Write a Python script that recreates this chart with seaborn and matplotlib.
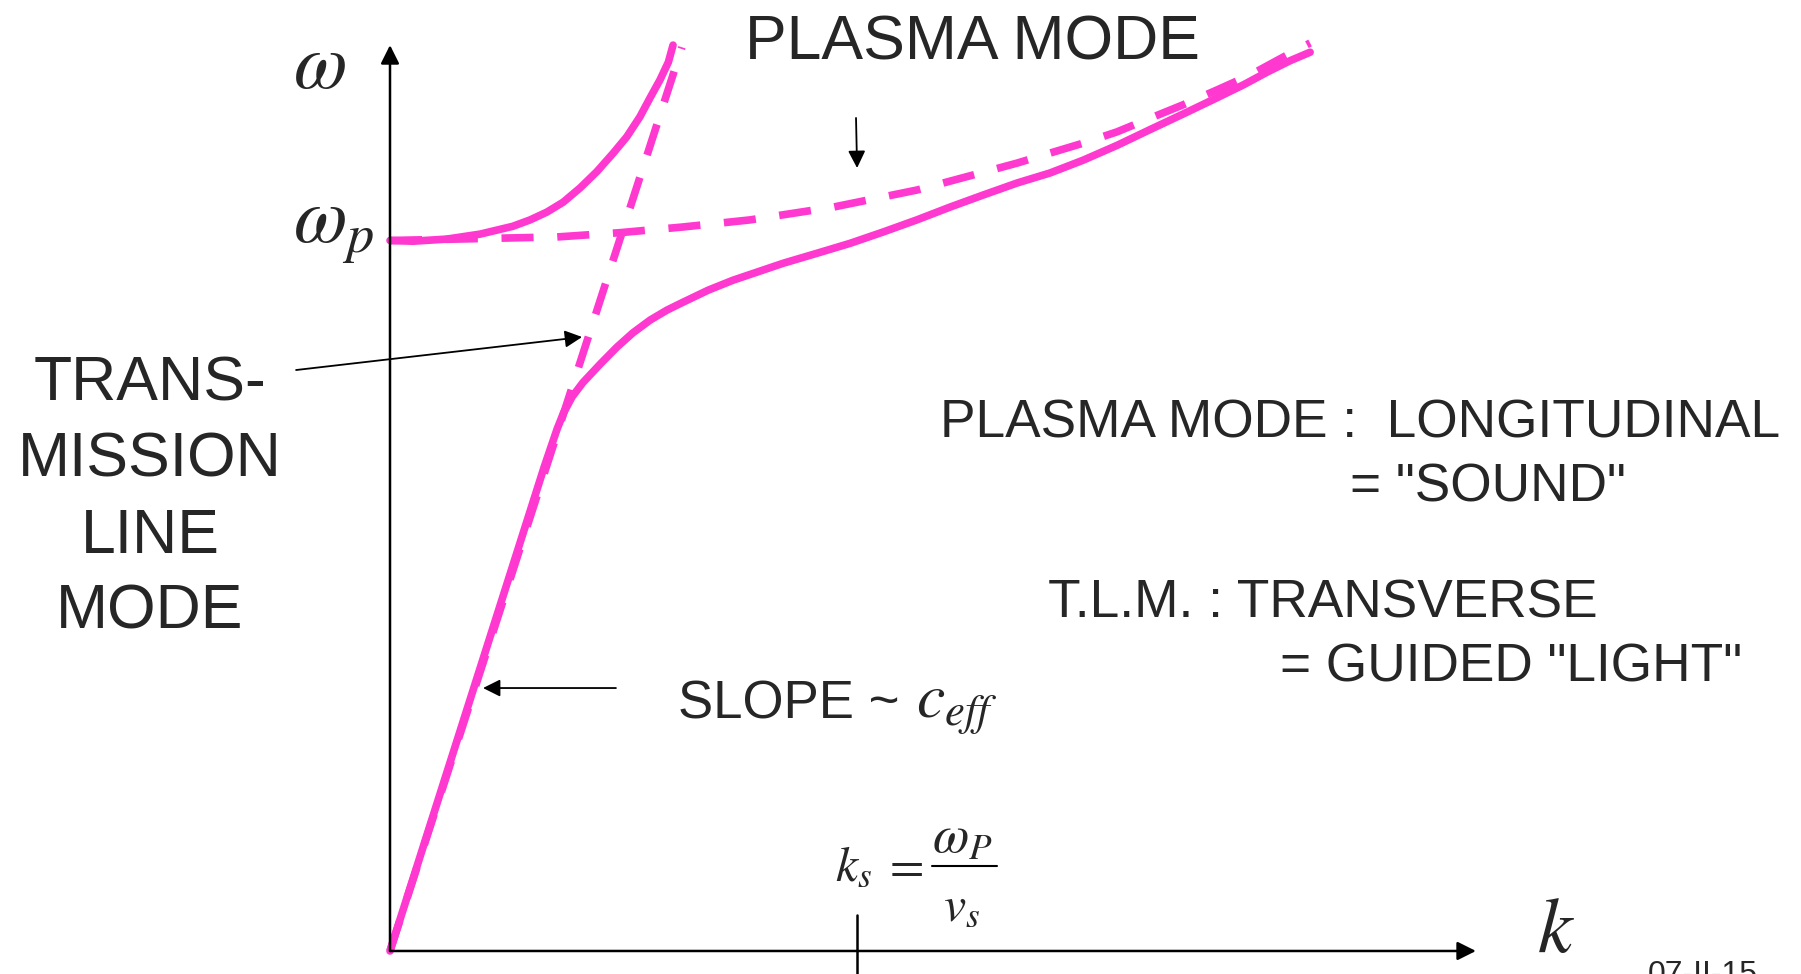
"""Dispersion sketch: plasma mode vs transmission line mode."""
import matplotlib
matplotlib.use("Agg")
import matplotlib.pyplot as plt
import seaborn as sns

sns.set_style("white")
plt.rcParams["font.family"] = ["Liberation Sans", "DejaVu Sans"]
plt.rcParams["mathtext.fontset"] = "stix"

PINK = "#ff38d0"

# --- data (k in units of k_s, omega in units of omega_p) ---
k_s = 1.0
omega_p = 1.0

light_k = [0.0, 0.625]
light_w = [0.0, 1.272]

plasma_k = [0.0, 0.358, 0.492, 0.627, 0.771, 0.949, 1.128, 1.270, 1.343,
            1.413, 1.484, 1.557, 1.627, 1.698, 1.771, 1.842, 1.912, 1.970]
plasma_w = [1.000, 1.005, 1.011, 1.019, 1.029, 1.047, 1.071, 1.096, 1.109,
            1.123, 1.137, 1.153, 1.172, 1.191, 1.212, 1.233, 1.258, 1.278]

upper_k = [0.0, 0.049, 0.122, 0.193, 0.263, 0.300, 0.336, 0.371, 0.407,
           0.443, 0.478, 0.507, 0.535, 0.557, 0.578, 0.596, 0.606]
upper_w = [1.000, 0.999, 1.002, 1.009, 1.020, 1.029, 1.040, 1.054, 1.074,
           1.097, 1.123, 1.146, 1.174, 1.201, 1.226, 1.251, 1.275]

lower_k = [0.0, 0.300, 0.330, 0.345, 0.358, 0.372, 0.390, 0.413, 0.450,
           0.486, 0.520, 0.557, 0.593, 0.627, 0.681, 0.734, 0.788, 0.842,
           0.914, 0.985, 1.056, 1.128, 1.199, 1.270, 1.343, 1.413, 1.484,
           1.557, 1.627, 1.698, 1.771, 1.827, 1.878, 1.927, 1.970]
lower_w = [0.0, 0.619, 0.681, 0.710, 0.735, 0.758, 0.780, 0.800, 0.826,
           0.850, 0.870, 0.888, 0.902, 0.913, 0.930, 0.944, 0.956, 0.968,
           0.982, 0.996, 1.012, 1.029, 1.047, 1.064, 1.081, 1.095, 1.113,
           1.134, 1.156, 1.178, 1.201, 1.219, 1.237, 1.253, 1.265]

k_axis_end = 2.325
w_axis_end = 1.275

fig = plt.figure(figsize=(18.01, 9.74), dpi=100)
ax = fig.add_axes([0, 0, 1, 1])
ax.set_xlim(-0.835, 3.021)
ax.set_ylim(-0.0324, 1.3385)
ax.axis("off")

# --- axes with arrows ---
arrow_kw = dict(arrowstyle="-|>", mutation_scale=28, lw=1.8, color="black",
                shrinkA=0, shrinkB=0)
ax.annotate("", xy=(0, w_axis_end), xytext=(0, 0), arrowprops=arrow_kw)
ax.annotate("", xy=(k_axis_end, 0), xytext=(0, 0), arrowprops=arrow_kw)
ax.plot([k_s, k_s], [0.0507, -0.06], color="black", lw=1.8)

# --- curves ---
def curve(k, w, dashed=False):
    sns.lineplot(x=k, y=w, ax=ax, sort=False, estimator=None,
                 color=PINK, linewidth=5.5)
    if dashed:
        ax.lines[-1].set_dashes([4.2, 3.1])

curve(light_k, light_w, dashed=True)
curve(plasma_k, plasma_w, dashed=True)
curve(upper_k, upper_w)
curve(lower_k, lower_w)

# --- labels ---
T = ax.transAxes
ax.text(0.1627, 0.9097, r"$\omega$", fontsize=56, transform=T, va="baseline")
ax.text(0.1627, 0.7515, r"$\omega_{p}$", fontsize=56, transform=T, va="baseline")
ax.text(0.8534, 0.0226, r"$k$", fontsize=56, transform=T, va="baseline")

# k_s = omega_P / v_s
ax.text(0.4636, 0.0965, r"$k_s$", fontsize=36, transform=T, va="baseline")
ax.text(0.5014, 0.0965, r"$=$", fontsize=36, transform=T, va="baseline",
        ha="center")
ax.text(0.5341, 0.1242, r"$\omega_P$", fontsize=38, transform=T,
        va="baseline", ha="center")
ax.text(0.5341, 0.0554, r"$v_s$", fontsize=36, transform=T, va="baseline",
        ha="center")
ax.plot([0.5175, 0.5536], [0.1109, 0.1109], transform=T, color="black", lw=1.5)

ax.text(0.5402, 0.9384, "PLASMA MODE", fontsize=45, transform=T,
        ha="center", va="baseline")
for txt, yb in zip(["TRANS-", "MISSION", "LINE", "MODE"],
                   [0.5893, 0.5103, 0.4322, 0.3552]):
    ax.text(0.0833, yb, txt, fontsize=45, transform=T, ha="center", va="baseline")

ax.text(0.5219, 0.5513, "PLASMA MODE :  LONGITUDINAL", fontsize=38.3,
        transform=T, va="baseline")
ax.text(0.7496, 0.4846, '= "SOUND"', fontsize=38.3, transform=T, va="baseline")
ax.text(0.5819, 0.3665, "T.L.M. : TRANSVERSE", fontsize=38.3, transform=T,
        va="baseline")
ax.text(0.7107, 0.2998, '= GUIDED "LIGHT"', fontsize=38.3, transform=T,
        va="baseline")

ax.text(0.3765, 0.2628, "SLOPE ~", fontsize=38, transform=T, va="baseline")
ax.text(0.5086, 0.2628, r"$c_{eff}$", fontsize=46, transform=T, va="baseline")

ax.text(0.9150, -0.0092, "07-II-15", fontsize=23, transform=T, va="baseline")

# --- pointer arrows ---
ptr = dict(arrowstyle="-|>", mutation_scale=26, lw=1.3, color="black",
           shrinkA=0, shrinkB=0)
ax.annotate("", xy=(0.3232, 0.6540), xytext=(0.1644, 0.6201),
            xycoords=T, textcoords=T, arrowprops=ptr)
ax.annotate("", xy=(0.4759, 0.8275), xytext=(0.4753, 0.8789),
            xycoords=T, textcoords=T, arrowprops=ptr)
ax.annotate("", xy=(0.2682, 0.2936), xytext=(0.3420, 0.2936),
            xycoords=T, textcoords=T, arrowprops=ptr)

fig.savefig("out.png", dpi=100)
plt.close(fig)
